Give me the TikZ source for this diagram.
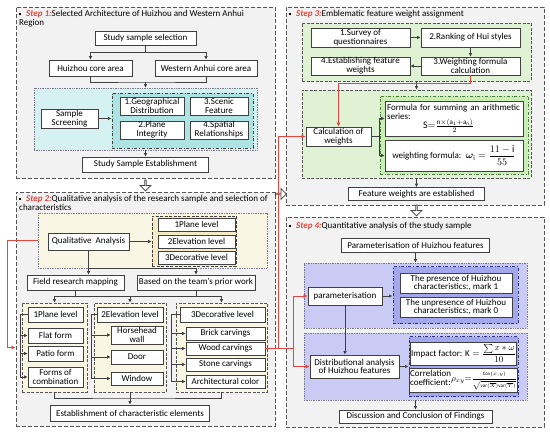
\documentclass[tikz,border=0pt]{standalone}
\usepackage{amsmath, amssymb}
\usepackage{fontspec}
\setmainfont{Carlito}
\usetikzlibrary{shapes,arrows.meta,positioning,calc}
\definecolor{PanelGrey}{HTML}{F2F2F2}
\definecolor{PanelLine}{HTML}{555555}
\definecolor{BoxLine}{HTML}{404040}
\definecolor{StepRed}{HTML}{E8453C}
\definecolor{CyanLight}{HTML}{D6F1F2}
\definecolor{CyanDeep}{HTML}{AEE3E4}
\definecolor{CreamLight}{HTML}{FAF6E4}
\definecolor{CreamDeep}{HTML}{F5ECC6}
\definecolor{GreenLight}{HTML}{E0F2D4}
\definecolor{GreenDeep}{HTML}{CBEDB6}
\definecolor{GreenLine}{HTML}{4D7A3E}
\definecolor{BlueLight}{HTML}{C9CBF5}
\definecolor{BlueDeep}{HTML}{A3A7EC}
\definecolor{BlueLine}{HTML}{2B308F}
\definecolor{ZoneLine}{HTML}{7A7A8A}
\newcommand{\steplabel}[1]{\rule[1.2pt]{2pt}{2pt}\hspace{5pt}\textcolor{StepRed}{\bfseries\itshape #1}}

\begin{document}
\begin{tikzpicture}[x=1pt, y=-1pt,
    font=\fontsize{9}{8.8}\selectfont,
    sz/.style 2 args={minimum width=#1pt, minimum height=#2pt},
    panel/.style={rectangle, draw=PanelLine, dash pattern=on 4pt off 2pt, thick, fill=PanelGrey},
    title/.style={anchor=north west, align=left, inner sep=0pt, font=\fontsize{9}{9}\selectfont},
    block/.style={rectangle, draw=BoxLine, line width=0.8pt, fill=white, align=center, inner sep=0.3pt},
    zone/.style={rectangle, densely dotted, line width=0.7pt},
    group/.style={rectangle, draw=PanelLine, dash pattern=on 3pt off 1.5pt, thick, fill=CreamLight},
    arrow/.style={-{Latex[length=3.5pt,width=3.5pt]}, line width=0.7pt, BoxLine},
    link/.style={line width=0.7pt, BoxLine},
    redarrow/.style={-{Latex[length=4pt,width=4pt]}, line width=0.7pt, StepRed},
    hollow/.style={single arrow, draw=BoxLine, fill=white, line width=0.7pt, minimum width=11pt, minimum height=11pt, single arrow head extend=2pt, inner sep=0pt}
  ]
    \useasboundingbox (0,0) rectangle (550,433);

    % Step 1
    \node[panel, sz={259}{171}] (s1) at (145.5,92.5) {};
    \node[title] (t1) at (19,10) {\steplabel{Step 1:}Selected Architecture of Huizhou and Western Anhui\\Region};
    \node[block, sz={101}{14}] (sel) at (145.5,38) {Study sample selection};
    \node[block, sz={83}{16}] (hz) at (90.5,68) {Huizhou core area};
    \node[block, sz={102}{16}] (wa) at (206,68) {Western Anhui core area};
    \node[zone, draw=ZoneLine, fill=CyanLight, sz={223}{62}] (cy) at (145.5,119) {};
    \node[rectangle, draw=BoxLine, dash dot, line width=0.9pt, fill=CyanDeep, sz={141}{55}] (cyi) at (182.5,120.5) {};
    \node[block, sz={57}{19}] (scr) at (69.5,118.5) {Sample\\Screening};
    \node[block, sz={64}{18}] (geo) at (152,106) {1.Geographical\\Distribution};
    \node[block, sz={58}{18}] (sce) at (219,106) {3.Scenic\\Feature};
    \node[block, sz={64}{18}] (pla) at (152,130) {2.Plane\\Integrity};
    \node[block, sz={58}{18}] (spa) at (219,130) {4.Spatial\\Relationships};
    \node[block, sz={126}{15}] (est) at (145.5,164.5) {Study Sample Establishment};

    \coordinate (j1) at (145.5,52);
    \coordinate (j2) at (145.5,82);
    \draw[link] (sel) -- (j1);
    \draw[arrow] (j1) -| (hz);
    \draw[arrow] (j1) -| (wa);
    \draw[link] (hz.south) |- (j2) -| (wa.south);
    \draw[arrow] (j2) -- (cy);
    \draw[arrow] (scr) -- (scr -| cyi.west);
    \draw[arrow] (cy) -- (est);

    \node[hollow, shape border rotate=270] (h1) at (145.5,185) {};

    % Step 2
    \node[panel, sz={259}{234}] (s2) at (145.5,309) {};
    \node[title] (t2) at (19,195) {\steplabel{Step 2:}Qualitative analysis of the research sample and selection of\\characteristics};
    \node[zone, draw=ZoneLine, fill=CreamLight, sz={229}{55}] (ye) at (152.5,240.5) {};
    \node[rectangle, draw=BoxLine, dash pattern=on 3pt off 1.5pt, thick, fill=CreamDeep, sz={84}{50}] (yei) at (194,241) {};
    \node[block, sz={81}{17}] (qa) at (88.5,241.5) {Qualitative\ \ Analysis};
    \node[block, sz={77}{13}] (l1) at (196.5,224.5) {1Plane level};
    \node[block, sz={77}{13}] (l2) at (196.5,241.5) {2Elevation level};
    \node[block, sz={77}{13}] (l3) at (196.5,257.5) {3Decorative level};
    \node[block, sz={97}{15}] (fr) at (75.5,282.5) {Field research mapping};
    \node[block, sz={118}{15}] (bt) at (196,282.5) {Based on the team's prior work};

    \draw[arrow] (qa) -- (qa -| yei.west);
    \draw[arrow] (qa.south) -- (qa.south |- fr.north);
    \draw[arrow] (qa.south |- ye.south) -| (bt.north);

    \node[group, sz={65}{89}] (g1) at (54.5,347.5) {};
    \node[group, sz={72}{89}] (g2) at (130,347.5) {};
    \node[group, sz={91}{89}] (g3) at (221.5,347.5) {};

    \node[block, sz={55}{15}] (p1) at (55.5,314.5) {1Plane level};
    \node[block, sz={55}{15}] (ff) at (55.5,335.5) {Flat form};
    \node[block, sz={55}{15}] (pf) at (55.5,353.5) {Patio form};
    \node[block, sz={55}{20}] (fc) at (55.5,377) {Forms of\\combination};
    \node[block, sz={66}{15}] (e2) at (130,314.5) {2Elevation level};
    \node[block, sz={52}{18}] (hw) at (137,335) {Horsehead\\wall};
    \node[block, sz={52}{14}] (dr) at (137,357) {Door};
    \node[block, sz={52}{13}] (wi) at (137,378.5) {Window};
    \node[block, sz={85}{15}] (d3) at (222.5,314.5) {3Decorative level};
    \node[block, sz={79}{13}] (bc) at (225.5,333.5) {Brick carvings};
    \node[block, sz={79}{13}] (wc) at (225.5,348.5) {Wood carvings};
    \node[block, sz={79}{13}] (sc) at (225.5,364.5) {Stone carvings};
    \node[block, sz={79}{13}] (ac) at (225.5,381.5) {Architectural color};
    \node[block, sz={159}{16}] (ec) at (130,413) {Establishment of characteristic elements};

    \coordinate (j3) at (130,296);
    \coordinate (j4) at (130,398);
    \draw[link] (fr.south) -- (fr.south |- j3);
    \draw[link] (bt.south) -- (bt.south |- j3);
    \draw[arrow] (j3) -| (g1.north);
    \draw[arrow] (j3) -| (g3.north);
    \draw[arrow] (j3) -- (g2.north);
    \foreach \n in {ff,pf,fc}
      \draw[arrow] (p1.west) -- ++(-7,0) |- (\n.west);
    \foreach \n in {hw,dr,wi}
      \draw[arrow] (e2.west) -- ++(-5,0) |- (\n.west);
    \foreach \n in {bc,wc,sc,ac}
      \draw[arrow] (d3.west) -- ++(-8,0) |- (\n.west);
    \draw[link] (g1.south) |- (j4) -| (g3.south);
    \draw[arrow] (g2.south) -- (ec.north);

    \draw[redarrow] (ye.west) -- ++(-30,0) |- (s2.west |- g1.center);

    % Step 3
    \node[panel, sz={258}{198}] (s3) at (415,106) {};
    \node[title] (t3) at (289,10) {\steplabel{Step 3:}Emblematic feature weight assignment};
    \node[rectangle, draw=PanelLine, dash pattern=on 3pt off 1.5pt, thick, fill=GreenLight, sz={229}{58}] (gt) at (416.5,52) {};
    \node[block, sz={99}{19}] (q1) at (360.5,37.5) {1.Survey of\\questionnaires};
    \node[block, sz={99}{19}] (q2) at (470.5,37.5) {2.Ranking of Hui styles};
    \node[block, sz={99}{18}] (q4) at (360.5,66) {4.Establishing feature\\weights};
    \node[block, sz={99}{18}] (q3) at (470.5,66) {3.Weighting formula\\calculation};
    \draw[arrow] (q1) -- (q2);
    \draw[arrow] (q2) -- (q3);
    \draw[arrow] (q3) -- (q4);

    \node[rectangle, draw=PanelLine, dash pattern=on 3pt off 1.5pt, thick, fill=GreenLight, sz={229}{88}] (gb) at (416.5,134) {};
    \node[rectangle, draw=GreenLine, dash dot, line width=0.9pt, fill=GreenDeep, sz={148}{78}] (gi) at (454,135) {};
    \node[block, sz={65}{19}] (cw) at (338.5,136.5) {Calculation of\\weights};
    \node[block, sz={138}{35}, text width=134pt, align=left] (f1) at (454,118.5)
      {Formula for summing an arithmetic\\series:\\[-2pt]\hspace*{36pt}{\fontsize{10}{10}\selectfont$\mathrm{S}{=}\frac{\mathrm{n}\times(\mathrm{a}_1+\mathrm{a}_\mathrm{n})}{2}$}};
    \node[block, sz={138}{31}] (f2) at (454,155.5)
      {weighting formula:\enspace{\fontsize{10}{10}\selectfont$\boldsymbol{\omega}_\mathrm{i}=\dfrac{11-\mathrm{i}}{55}$}};
    \node[block, sz={136}{13}] (fw) at (416.5,194) {Feature weights are established};

    \draw[arrow] (gt) -- (gb);
    \foreach \n in {f1,f2}
      \draw[arrow] (cw.east) -- ++(8,0) |- (\n.west);
    \draw[arrow] (gb) -- (fw);
    \draw[redarrow] (q3.south) -- ++(0,8) -| (cw.north);

    \node[hollow] (h2) at (280.5,194) {};
    \node[hollow, shape border rotate=270] (h3) at (416.5,210) {};

    % Step 4
    \node[panel, sz={258}{210}] (s4) at (415,322) {};
    \node[title] (t4) at (289,222) {\steplabel{Step 4:}Quantitative analysis of the study sample};
    \node[block, sz={148}{14}] (pz) at (415.5,245) {Parameterisation of Huizhou features};
    \node[zone, draw=ZoneLine, fill=BlueLight, sz={223}{65}] (bl1) at (415.5,295.5) {};
    \node[rectangle, draw=BlueLine, dash dot, line width=1pt, fill=BlueDeep, sz={125}{57}] (bi1) at (455.5,295.5) {};
    \node[block, sz={112}{20}] (pr) at (456,283) {The presence of Huizhou\\characteristics:, mark 1};
    \node[block, sz={112}{20}] (un) at (456,307) {The unpresence of Huizhou\\characteristics:, mark 0};
    \node[block, sz={74}{18}] (pm) at (345,296) {parameterisation};
    \node[zone, draw=ZoneLine, fill=BlueLight, sz={223}{67}] (bl2) at (415.5,366.5) {};
    \node[rectangle, draw=BlueLine, dash dot, line width=1pt, fill=BlueDeep, sz={109}{60}] (bi2) at (463.5,367) {};
    \node[block, sz={99}{23}] (ik) at (463.5,353.5)
      {Impact factor: $\mathrm{K}=\dfrac{\sum x*\omega}{10}$};
    \node[block, sz={99}{24}] (co) at (463.5,380)
      {\begin{tabular}{@{}l@{}}Correlation\\coefficient:\end{tabular}$\rho_{xy}{=}\dfrac{\scriptscriptstyle\mathrm{Cov}(x,y)}{\scriptscriptstyle\sqrt{\mathrm{var}(\overline{X})\mathrm{var}(\overline{Y})}}$};
    \node[block, sz={89}{23}] (da) at (354.5,366.5) {Distributional analysis\\of Huizhou features};
    \node[block, sz={153}{13}] (dc) at (415.5,416.5) {Discussion and Conclusion of Findings};

    \draw[arrow] (pz) -- (bl1);
    \draw[arrow] (pm) -- (pm -| bi1.west);
    \draw[arrow] (pm.south) -- (pm.south |- da.north);
    \draw[arrow] (da) -- (da -| bi2.west);
    \draw[arrow] (bl2) -- (dc);

    \draw[redarrow] (wc.east) -- ++(13,0) |- (cw.west);
    \draw[redarrow] (wc.east) -- ++(28,0) |- (pm.west);
    \draw[redarrow] (wc.east) -- ++(28,0) |- (da.west);
  \end{tikzpicture}
\end{document}
